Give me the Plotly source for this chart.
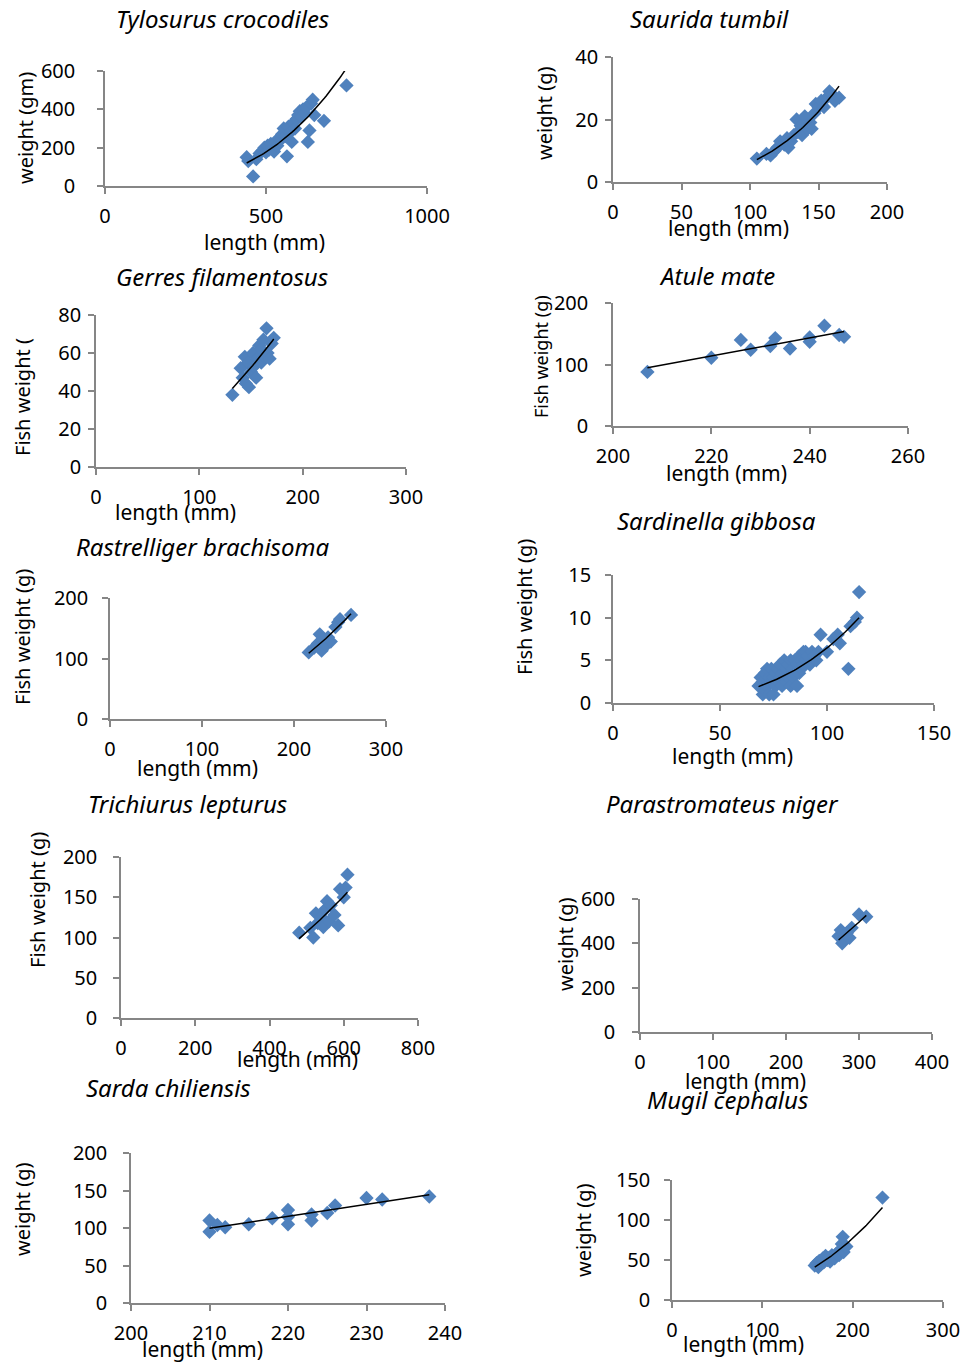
import numpy as np
import plotly.graph_objects as go

W, H = 964, 1363
OFF = 0

# ---------------- data ----------------
tylo_len = [440, 445, 460, 470, 480, 490, 495, 500, 505, 510, 515, 520, 525, 530, 535, 540, 545, 550,
            555, 560, 565, 570, 575, 580, 585, 590, 595, 600, 605, 610, 615, 620, 625, 630, 635, 640,
            645, 650, 680, 750]
tylo_wt = [150, 130, 50, 140, 170, 185, 200, 175, 210, 190, 220, 200, 180, 230, 210, 250, 240, 270,
           300, 260, 155, 310, 280, 230, 330, 300, 350, 370, 390, 360, 400, 380, 410, 230, 290, 430,
           450, 370, 340, 525]

saur_len = [105, 112, 115, 118, 120, 122, 125, 127, 128, 130, 132, 134, 135, 137, 138, 140, 142, 144,
            145, 147, 148, 150, 152, 154, 156, 158, 160, 162, 165]
saur_wt = [7.5, 9, 8.5, 10, 11, 13, 12, 14, 11, 13, 15, 20, 16, 18, 15, 21, 17, 19,
           17, 22, 25, 24, 26, 24, 27, 29, 28, 26, 27]

gerr_len = [132, 140, 142, 144, 145, 147, 148, 150, 152, 153, 155, 156, 158, 160, 160, 162, 163, 165,
            166, 168, 170, 172]
gerr_wt = [38, 52, 47, 58, 44, 55, 42, 50, 60, 53, 47, 57, 64, 55, 62, 67, 58, 73, 60, 57, 65, 68]

atul_len = [207, 220, 226, 228, 232, 233, 236, 240, 240, 243, 246, 247]
atul_wt = [88, 111, 140, 124, 130, 143, 126, 137, 144, 163, 148, 145]

rast_len = [216, 222, 226, 228, 230, 232, 235, 237, 240, 245, 248, 250, 262]
rast_wt = [110, 118, 125, 140, 113, 130, 122, 135, 128, 152, 160, 165, 172]

sard_len = [68, 69, 70, 70, 71, 71, 72, 72, 73, 73, 74, 74, 75, 75, 76, 76, 77, 77, 78, 78, 79, 79,
            80, 80, 81, 81, 82, 82, 83, 83, 84, 84, 85, 85, 86, 86, 87, 87, 88, 88, 89, 89, 90, 90,
            91, 92, 93, 94, 95, 96, 97, 100, 103, 105, 106, 110, 111, 113, 114, 115]
sard_wt = [2, 3, 1, 2.5, 3.5, 1.5, 4, 2, 1, 3, 2.5, 4, 1, 3, 2, 3.5, 4, 2.5, 3, 4.5, 2, 3.5,
           5, 3, 4, 2.5, 4.5, 3, 5, 2, 4, 3, 5, 3.5, 4.5, 2, 5.5, 3.5, 4, 5, 6, 4.5, 5, 6,
           5.5, 4.5, 6, 5.5, 5, 6, 8, 6, 7.5, 8, 7, 4, 9, 9.5, 10, 13]

tric_len = [480, 510, 518, 525, 530, 540, 545, 550, 555, 560, 565, 575, 585, 590, 600, 605, 610]
tric_wt = [106, 112, 100, 130, 118, 125, 113, 135, 145, 120, 140, 128, 115, 160, 150, 162, 178]

para_len = [272, 275, 277, 280, 283, 287, 290, 300, 310]
para_wt = [432, 460, 400, 420, 445, 425, 470, 530, 520]

sarc_len = [210, 210, 211, 212, 215, 218, 220, 220, 220, 223, 223, 225, 226, 230, 232, 238]
sarc_wt = [110, 95, 104, 101, 105, 113, 124, 105, 115, 118, 110, 120, 130, 140, 138, 142]

mugi_len = [158, 160, 162, 163, 165, 167, 168, 170, 172, 174, 175, 177, 180, 182, 184, 185, 187,
            188, 189, 190, 192, 193, 233]
mugi_wt = [43, 46, 41, 49, 45, 52, 47, 55, 50, 53, 48, 56, 52, 58, 60, 56, 63, 70, 79, 60, 66, 67, 128]

# ---------------- panel layout ----------------
panels = [
    dict(name="Tylosurus crocodiles", x=tylo_len, y=tylo_wt, fit="power",
         xr=[0, 1000], dx=500, yr=[0, 600], dy=200, box=(105, 427, 71, 186),
         title=(222, 18), xt=("length (mm)", 264, 242), yt=("weight (gm)", 26, 128, 20), ysd=18),
    dict(name="Saurida tumbil", x=saur_len, y=saur_wt, fit="power",
         xr=[0, 200], dx=50, yr=[0, 40], dy=20, box=(613, 887, 57, 182),
         title=(709, 18), xt=("length (mm)", 728, 228), yt=("weight (g)", 544, 113, 20), ysd=3),
    dict(name="Gerres filamentosus", x=gerr_len, y=gerr_wt, fit="power",
         xr=[0, 300], dx=100, yr=[0, 80], dy=20, box=(96, 406, 315, 467),
         title=(222, 276), xt=("length (mm)", 175, 512), yt=("Fish weight (", 22, 397, 20), ysd=3),
    dict(name="Atule mate", x=atul_len, y=atul_wt, fit="linear",
         xr=[200, 260], dx=20, yr=[0, 200], dy=100, box=(613, 908, 303, 426),
         title=(717, 275), xt=("length (mm)", 726, 473), yt=("Fish weight (g)", 541, 357, 18), ysd=13),
    dict(name="Rastrelliger brachisoma", x=rast_len, y=rast_wt, fit="power",
         xr=[0, 300], dx=100, yr=[0, 200], dy=100, box=(110, 386, 598, 719),
         title=(202, 546), xt=("length (mm)", 197, 768), yt=("Fish weight (g)", 22, 637, 20), ysd=10),
    dict(name="Sardinella gibbosa", x=sard_len, y=sard_wt, fit="power",
         xr=[0, 150], dx=50, yr=[0, 15], dy=5, box=(613, 934, 575, 703),
         title=(716, 520), xt=("length (mm)", 732, 756), yt=("Fish weight (g)", 525, 607, 20), ysd=10),
    dict(name="Trichiurus lepturus", x=tric_len, y=tric_wt, fit="power",
         xr=[0, 800], dx=200, yr=[0, 200], dy=50, box=(121, 418, 857, 1018),
         title=(187, 803), xt=("length (mm)", 297, 1059), yt=("Fish weight (g)", 37, 900, 20), ysd=12),
    dict(name="Parastromateus niger", x=para_len, y=para_wt, fit="power",
         xr=[0, 400], dx=100, yr=[0, 600], dy=200, box=(640, 932, 899, 1032),
         title=(722, 803), xt=("length (mm)", 745, 1081), yt=("weight (g)", 565, 944, 20), ysd=13),
    dict(name="Sarda chiliensis", x=sarc_len, y=sarc_wt, fit="linear",
         xr=[200, 240], dx=10, yr=[0, 200], dy=50, box=(131, 445, 1153, 1303),
         title=(168, 1087), xt=("length (mm)", 202, 1349), yt=("weight (g)", 22, 1209, 20), ysd=12),
    dict(name="Mugil cephalus", x=mugi_len, y=mugi_wt, fit="power",
         xr=[0, 300], dx=100, yr=[0, 150], dy=50, box=(672, 943, 1180, 1300),
         title=(727, 1099), xt=("length (mm)", 743, 1344), yt=("weight (g)", 583, 1230, 20), ysd=10),
]

FONT = "Noto Sans"
GREY = "#868686"
BLUE = "#4F81BD"

fig = go.Figure()
annotations = []
layout = {}


def px_x(p):
    return (p - OFF) / W


def px_y(p):
    return 1 - (p - OFF) / H


for i, p in enumerate(panels, start=1):
    sx = "" if i == 1 else str(i)
    xa, ya = "x" + sx, "y" + sx
    x = np.array(p["x"], dtype=float)
    y = np.array(p["y"], dtype=float)
    fig.add_trace(go.Scatter(x=x, y=y, mode="markers", xaxis=xa, yaxis=ya,
                             marker=dict(symbol="diamond", size=11, color=BLUE, line=dict(width=0)),
                             cliponaxis=False, showlegend=False))
    xs = np.linspace(x.min(), x.max(), 60)
    if p["fit"] == "power":
        b, la = np.polyfit(np.log(x), np.log(y), 1)
        ys = np.exp(la) * xs ** b
    else:
        m, c = np.polyfit(x, y, 1)
        ys = m * xs + c
    fig.add_trace(go.Scatter(x=xs, y=ys, mode="lines", xaxis=xa, yaxis=ya,
                             line=dict(color="black", width=1.5), cliponaxis=False,
                             showlegend=False, hoverinfo="skip"))
    x0, x1, yt_, yb = p["box"]
    axcommon = dict(showline=True, linecolor=GREY, linewidth=1.5, ticks="outside", ticklen=6,
                    tickcolor=GREY, tickwidth=1.5, showgrid=False, zeroline=False, automargin=False,
                    tickfont=dict(family=FONT, size=20, color="black"))
    layout["xaxis" + sx] = dict(axcommon, domain=[px_x(x0), px_x(x1)], range=p["xr"],
                                tick0=p["xr"][0], dtick=p["dx"], anchor=ya, ticklabelstandoff=5)
    layout["yaxis" + sx] = dict(axcommon, domain=[px_y(yb), px_y(yt_)], range=p["yr"],
                                tick0=0, dtick=p["dy"], anchor=xa, ticklabelstandoff=p["ysd"])
    tx, ty = p["title"]
    annotations.append(dict(text="<i>" + p["name"] + "</i>", x=px_x(tx), y=px_y(ty), xref="paper",
                            yref="paper", showarrow=False, xanchor="center", yanchor="middle",
                            font=dict(family=FONT, size=24, color="black")))
    t, ax_, ay_ = p["xt"]
    annotations.append(dict(text=t, x=px_x(ax_), y=px_y(ay_), xref="paper", yref="paper",
                            showarrow=False, xanchor="center", yanchor="middle",
                            font=dict(family=FONT, size=21, color="black")))
    t, ax_, ay_, fs = p["yt"]
    annotations.append(dict(text=t, x=px_x(ax_), y=px_y(ay_), xref="paper", yref="paper",
                            showarrow=False, xanchor="center", yanchor="middle", textangle=-90,
                            font=dict(family=FONT, size=fs, color="black")))

fig.update_layout(width=W, height=H, margin=dict(l=0, r=0, t=0, b=0, autoexpand=False),
                  paper_bgcolor="white", plot_bgcolor="white", showlegend=False,
                  annotations=annotations, **layout)
fig.write_html("out.html", config={"displayModeBar": False},
               post_script="document.body.style.margin='0';document.body.style.overflow='hidden';")
